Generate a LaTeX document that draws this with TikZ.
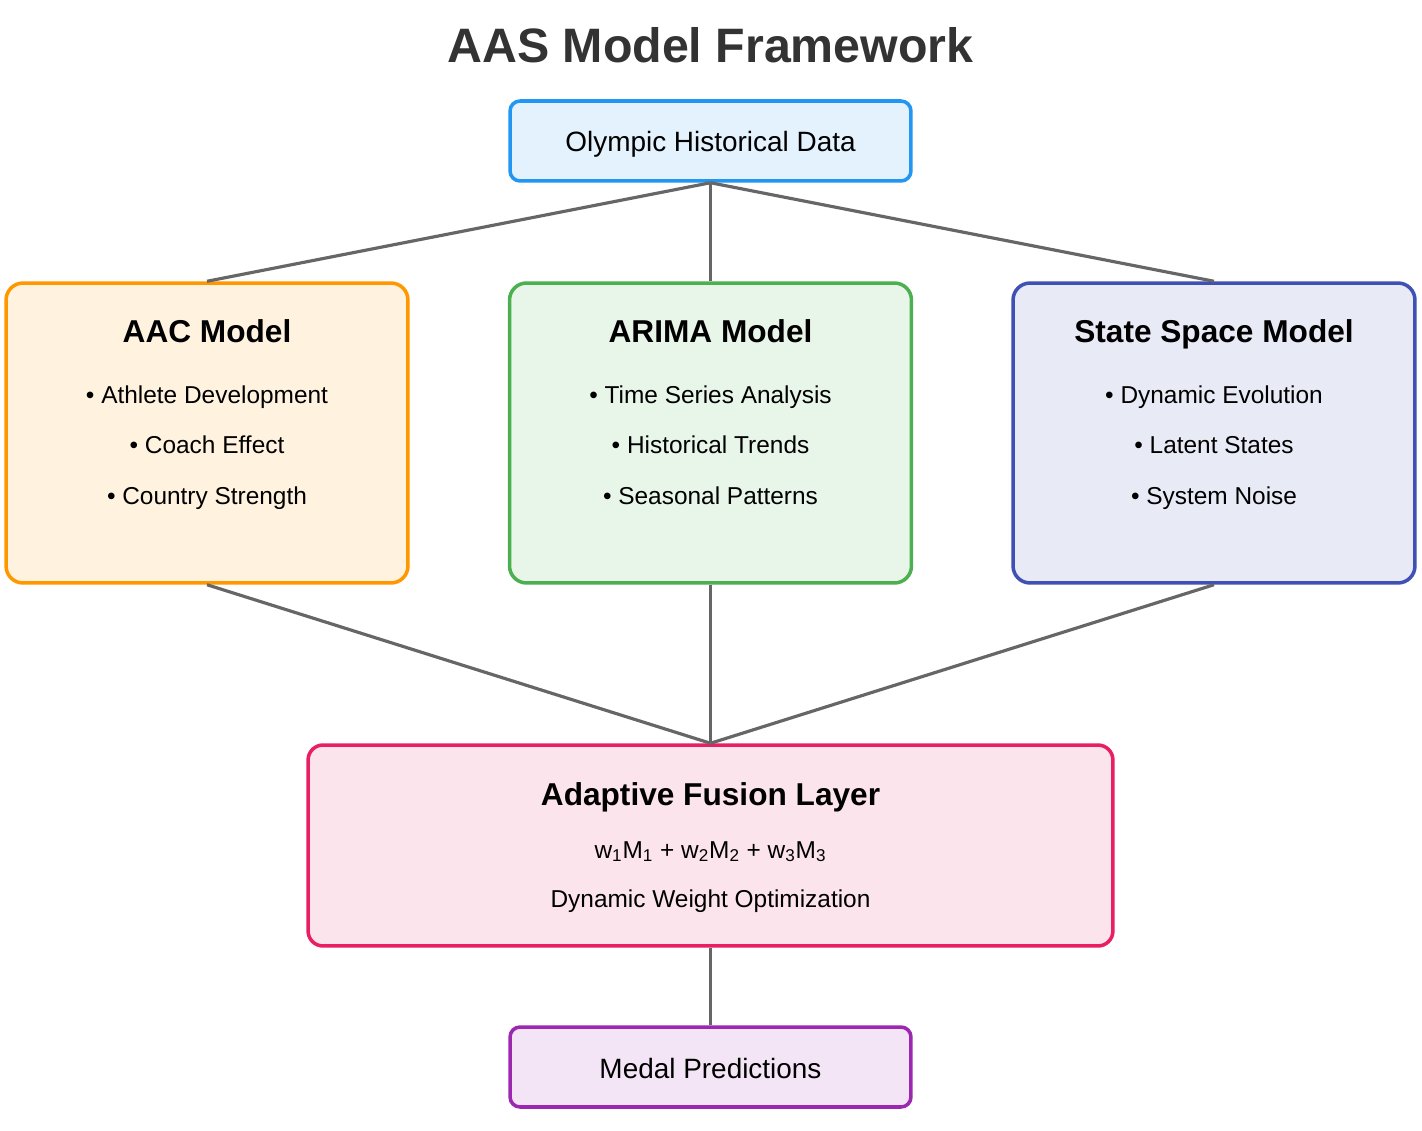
\documentclass[tikz,border=0pt]{standalone}
\usepackage{fontspec}
\setmainfont{Liberation Sans}
\usepackage{xcolor}
\usetikzlibrary{calc}

\definecolor{dataBorder}{HTML}{2196F3}
\definecolor{dataFill}{HTML}{E3F2FD}
\definecolor{aacBorder}{HTML}{FF9800}
\definecolor{aacFill}{HTML}{FFF3E0}
\definecolor{arimaBorder}{HTML}{4CAF50}
\definecolor{arimaFill}{HTML}{E8F5E9}
\definecolor{ssmBorder}{HTML}{3F51B5}
\definecolor{ssmFill}{HTML}{E8EAF6}
\definecolor{fusionBorder}{HTML}{E91E63}
\definecolor{fusionFill}{HTML}{FCE4EC}
\definecolor{medalBorder}{HTML}{9C27B0}
\definecolor{medalFill}{HTML}{F3E5F5}
\definecolor{linkGray}{HTML}{666666}
\definecolor{titleGray}{HTML}{333333}

\begin{document}
\begin{tikzpicture}[x=0.02cm, y=-0.02cm,
    box/.style={draw, line width=2pt, rectangle, inner sep=0pt},
    smallbox/.style={box, minimum width=8.02cm, minimum height=1.6cm, rounded corners=0.2cm},
    modelbox/.style={box, minimum width=8.04cm, minimum height=6cm, rounded corners=0.34cm},
    link/.style={draw=linkGray, line width=1.8pt},
    txt/.style={anchor=base, inner sep=0pt, font=\fontsize{15.9}{19}\selectfont},
    head/.style={anchor=base, inner sep=0pt, font=\fontsize{18}{22}\selectfont\bfseries},
    item/.style={anchor=base, inner sep=0pt, font=\fontsize{13.9}{17}\selectfont}]

      \useasboundingbox[fill=white] (0,0) rectangle (1422,1131);

      \node[anchor=base, inner sep=0pt, text=titleGray, font=\fontsize{27.5}{33}\selectfont\bfseries] (title) at (710.5,63) {AAS Model Framework};

      % input data
      \node[smallbox, draw=dataBorder, fill=dataFill] (data) at (710.5,141) {};
      \node[txt] (dataT) at (710.5,152) {Olympic Historical Data};

      % the three models
      \node[modelbox, draw=aacBorder, fill=aacFill] (aac) at (207,433) {};
      \node[head] (aacT) at (207,343) {AAC Model};
      \node[item] (aac1) at (207,403) {• Athlete Development};
      \node[item] (aac2) at (207,453) {• Coach Effect};
      \node[item] (aac3) at (207,504) {• Country Strength};

      \node[modelbox, draw=arimaBorder, fill=arimaFill] (arima) at (710.5,433) {};
      \node[head] (arimaT) at (710.5,343) {ARIMA Model};
      \node[item] (arima1) at (710.5,403) {• Time Series Analysis};
      \node[item] (arima2) at (710.5,453) {• Historical Trends};
      \node[item] (arima3) at (710.5,504) {• Seasonal Patterns};

      \node[modelbox, draw=ssmBorder, fill=ssmFill] (ssm) at (1214,433) {};
      \node[head] (ssmT) at (1214,343) {State Space Model};
      \node[item] (ssm1) at (1214,403) {• Dynamic Evolution};
      \node[item] (ssm2) at (1214,453) {• Latent States};
      \node[item] (ssm3) at (1214,504) {• System Noise};

      % fusion
      \node[box, draw=fusionBorder, fill=fusionFill, minimum width=16.1cm, minimum height=4.02cm, rounded corners=0.3cm] (fusion) at (710.5,845.5) {};
      \node[head] (fusionT) at (710.5,805) {Adaptive Fusion Layer};
      \node[item] (fusion1) at (710.5,858) {w\textsubscript{1}M\textsubscript{1} + w\textsubscript{2}M\textsubscript{2} + w\textsubscript{3}M\textsubscript{3}};
      \node[item] (fusion2) at (710.5,907) {Dynamic Weight Optimization};

      % output
      \node[smallbox, draw=medalBorder, fill=medalFill] (medal) at (710.5,1067) {};
      \node[txt] (medalT) at (710.5,1078) {Medal Predictions};

      \draw[link] (data.south) -- (aac.north);
      \draw[link] (data.south) -- (arima.north);
      \draw[link] (data.south) -- (ssm.north);

      \draw[link] (aac.south) -- (fusion.north);
      \draw[link] (arima.south) -- (fusion.north);
      \draw[link] (ssm.south) -- (fusion.north);

      \draw[link] (fusion.south) -- (medal.north);
\end{tikzpicture}
\end{document}
